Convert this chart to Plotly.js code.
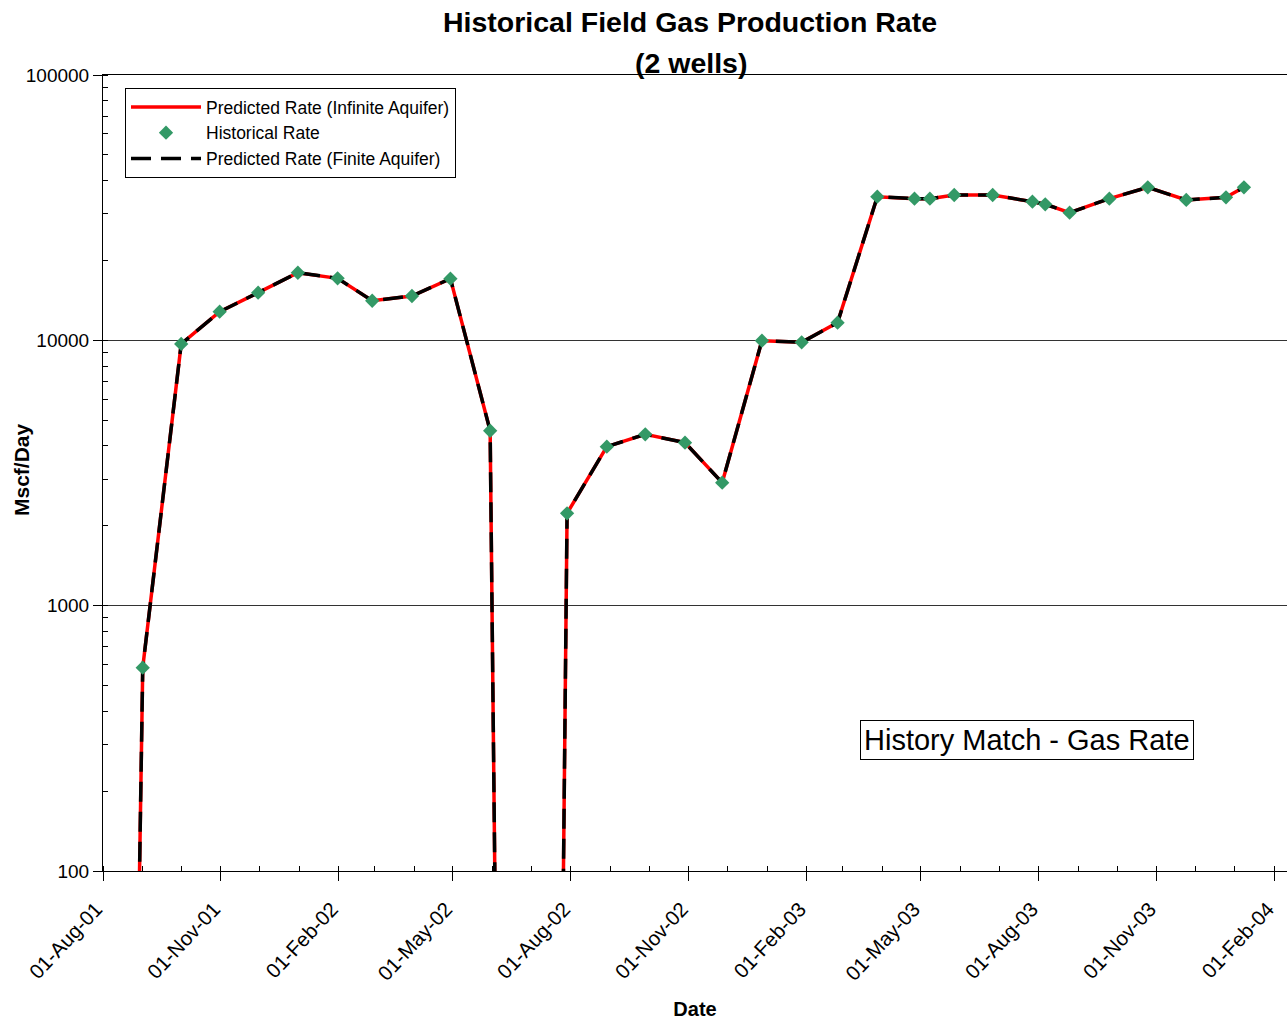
<!DOCTYPE html>
<html>
<head>
<meta charset="utf-8">
<script src="https://cdn.plot.ly/plotly-3.0.1.min.js"></script>
<style>
  html, body { margin: 0; padding: 0; background: #fff; }
  #chart { width: 1287px; height: 1024px; }
</style>
</head>
<body>
<div id="chart"></div>
<script>
// ---- Data ----
const histDates = ['2001-09-01','2001-10-01','2001-10-31','2001-11-30','2001-12-31','2002-01-31','2002-02-27','2002-03-30','2002-04-29','2002-05-30',
  '2002-07-29','2002-08-29','2002-09-28','2002-10-29','2002-11-27','2002-12-28','2003-01-28','2003-02-25',
  '2003-03-28','2003-04-26','2003-05-08','2003-05-27','2003-06-26','2003-07-27','2003-08-06','2003-08-25','2003-09-25','2003-10-25','2003-11-24','2003-12-25','2004-01-08'];
const histRate = [584, 9690, 12820, 15120, 17980, 17130, 14100, 14690, 17080, 4563,
  2229, 3973, 4424, 4115, 2908, 9970, 9830, 11660,
  34780, 34190, 34190, 35290, 35290, 33310, 32560, 30270, 34190, 37730, 33810, 34600, 37730];

// Predicted series: near-zero (off-scale) while wells are shut in
const predDates = ['2001-08-23','2001-09-01','2001-10-01','2001-10-31','2001-11-30','2001-12-31','2002-01-31','2002-02-27','2002-03-30','2002-04-29','2002-05-30',
  '2002-06-07','2002-07-22',
  '2002-07-29','2002-08-29','2002-09-28','2002-10-29','2002-11-27','2002-12-28','2003-01-28','2003-02-25',
  '2003-03-28','2003-04-26','2003-05-08','2003-05-27','2003-06-26','2003-07-27','2003-08-06','2003-08-25','2003-09-25','2003-10-25','2003-11-24','2003-12-25','2004-01-08'];
const predInfiniteRate = [1, 584, 9690, 12820, 15120, 17980, 17130, 14100, 14690, 17080, 4563,
  1, 1,
  2229, 3973, 4424, 4115, 2908, 9970, 9830, 11660,
  34780, 34190, 34190, 35290, 35290, 33310, 32560, 30270, 34190, 37730, 33810, 34600, 37730];
const predFiniteRate = [1, 584, 9690, 12820, 15120, 17980, 17130, 14100, 14690, 17080, 4563,
  1, 1,
  2229, 3973, 4424, 4115, 2908, 9970, 9830, 11660,
  34780, 34190, 34190, 35290, 35290, 33310, 32560, 30270, 34190, 37730, 33810, 34600, 37730];

const yTickVals = [100, 1000, 10000, 100000];
const yTickText = ['100', '1000', '10000', '100000'];

const FONT = 'Liberation Sans, Arial, sans-serif';

const traces = [
  {
    name: 'Predicted Rate (Infinite Aquifer)',
    x: predDates, y: predInfiniteRate,
    type: 'scatter', mode: 'lines',
    line: { color: '#ff0000', width: 3.5 },
    legendrank: 1
  },
  {
    name: 'Predicted Rate (Finite Aquifer)',
    x: predDates, y: predFiniteRate,
    type: 'scatter', mode: 'lines',
    line: { color: '#000000', width: 3.5, dash: '20px,10px' },
    legendrank: 3
  },
  {
    name: 'Historical Rate',
    x: histDates, y: histRate,
    type: 'scatter', mode: 'markers',
    marker: { symbol: 'diamond', size: 11, color: '#339966' },
    legendrank: 2
  }
];

const layout = {
  width: 1287, height: 1024,
  margin: { l: 103, r: 0, t: 75, b: 153 },
  paper_bgcolor: '#ffffff', plot_bgcolor: '#ffffff',
  font: { family: FONT, color: '#000' },
  title: {
    text: '<b>Historical Field Gas Production Rate</b>',
    font: { family: FONT, size: 28.5, color: '#000' },
    x: 690 / 1287, xref: 'container', xanchor: 'center',
    y: 1 - 22 / 1024, yref: 'container', yanchor: 'middle'
  },
  showlegend: true,
  legend: {
    x: (125 - 103) / 1184, y: (871 - 88) / 796, xanchor: 'left', yanchor: 'top',
    bgcolor: '#ffffff', bordercolor: '#000', borderwidth: 1,
    font: { family: FONT, size: 17.5, color: '#000' },
    tracegroupgap: 0, itemwidth: 70
  },
  xaxis: {
    type: 'date',
    range: ['2001-08-01', '2004-02-10 14:00'],
    tickmode: 'linear', tick0: '2001-08-01', dtick: 'M3',
    tickformat: '%d-%b-%y',
    tickangle: -47,
    tickfont: { family: FONT, size: 20.5, color: '#000' },
    ticklabelstandoff: 8,
    ticklabelshift: -7,
    ticks: 'outside', ticklen: 9, tickcolor: '#000', tickwidth: 1,
    minor: { dtick: 'M1', ticks: 'inside', ticklen: 5, tickcolor: '#000', showgrid: false },
    showgrid: false, zeroline: false,
    showline: true, linecolor: '#000', linewidth: 1, mirror: true,
    title: { text: '<b>Date</b>', font: { family: FONT, size: 20, color: '#000' }, standoff: 18 }
  },
  yaxis: {
    type: 'log',
    range: [2, 5],
    tickmode: 'array', tickvals: yTickVals, ticktext: yTickText,
    tickfont: { family: FONT, size: 19, color: '#000' },
    ticks: 'outside', ticklen: 9, tickcolor: '#000', tickwidth: 1,
    minor: { ticks: 'inside', ticklen: 5, tickcolor: '#000', dtick: 'D1', showgrid: false },
    showgrid: true, gridcolor: '#333', gridwidth: 1,
    zeroline: false,
    showline: true, linecolor: '#000', linewidth: 1
  },
  annotations: [
    {
      text: '<b>(2 wells)</b>', xref: 'paper', yref: 'paper',
      x: (691 - 103) / 1184, y: (871 - 63) / 796, xanchor: 'center', yanchor: 'middle',
      showarrow: false, font: { family: FONT, size: 28.5, color: '#000' }
    },
    {
      text: '<b>Mscf/Day</b>', xref: 'paper', yref: 'paper',
      x: (22 - 103) / 1184, y: (871 - 470) / 796, xanchor: 'center', yanchor: 'middle',
      textangle: -90, showarrow: false, font: { family: FONT, size: 21, color: '#000' }
    },
    {
      text: 'History Match - Gas Rate', xref: 'paper', yref: 'paper',
      x: (1026.5 - 103) / 1184, y: (871 - 740) / 796, xanchor: 'center', yanchor: 'middle',
      showarrow: false, font: { family: FONT, size: 29, color: '#000' },
      bgcolor: '#ffffff', bordercolor: '#000', borderwidth: 1, borderpad: 3
    }
  ]
};

Plotly.newPlot('chart', traces, layout, { displayModeBar: false, staticPlot: true });
</script>
</body>
</html>
